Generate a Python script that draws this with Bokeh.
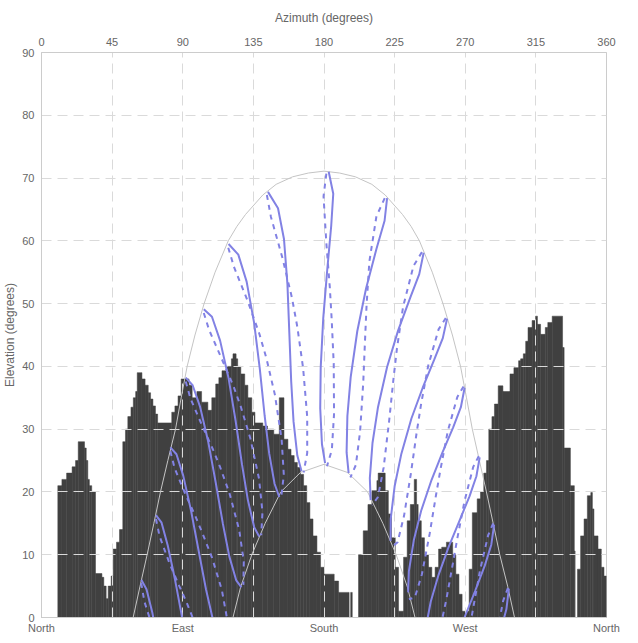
from bokeh.plotting import figure
from bokeh.models import LinearAxis, Range1d, FixedTicker, ColumnDataSource
from bokeh.embed import file_html
from bokeh.resources import INLINE

# ---------------- data ----------------
azimuth_ticks = [0, 45, 90, 135, 180, 225, 270, 315, 360]
elevation_ticks = [0, 10, 20, 30, 40, 50, 60, 70, 80, 90]
compass_ticks = [0, 90, 180, 270, 360]
compass_labels = ["North", "East", "South", "West", "North"]

# horizon profile: start azimuth of each step and its elevation
horizon_az = [0, 10.4, 13, 16, 19.5, 21.7, 23.4, 27.4, 28.5, 29.5, 30.5, 32, 34.4, 38.5, 39.7,
              41.2, 42.5, 44.4, 45.7, 47.8, 49.7, 51.8, 53.5, 55, 57, 58.5, 60, 61, 64, 66,
              68, 69.5, 71, 72.6, 74, 83, 85, 87, 89, 94, 96, 99, 102, 106, 108.5, 111, 113,
              115, 118, 121, 122, 124, 125, 127, 129.5, 131.5, 134, 136, 141, 144, 148, 151.5,
              154.5, 157, 159, 161, 163, 165, 167, 169, 171, 173, 175.5, 177.8, 180, 186.5,
              189.3, 196, 197, 198, 202, 205, 208, 210.5, 213.7, 214.5, 219, 221, 223, 225.4,
              227.5, 230.7, 233, 235, 237.5, 239, 240, 242, 244, 246.6, 248.7, 250.8, 253, 255,
              258, 262, 264, 266, 268, 272.5, 274.5, 277.6, 279.7, 281.8, 283.5, 285, 287,
              288.6, 291, 294, 298.5, 301, 304, 305.3, 307, 308.5, 310, 312.6, 314.8, 316,
              318, 321, 322.6, 325.4, 332, 333, 337, 339.5, 340, 341.5, 343.5, 345.7, 347.8,
              350, 351, 352, 354.6, 356.7, 358.4]
horizon_el = [0, 21, 22, 23, 24, 25, 28, 27, 25, 22, 21, 20, 7, 6.4, 5,
              3, 5, 6.6, 10.9, 12, 14, 28, 30, 32, 33.5, 35, 36, 39, 38, 37,
              35.8, 34.8, 33.7, 32.4, 31, 32.7, 33.7, 35.3, 38, 37, 35, 36, 34.3, 33, 35, 37.2, 38.2,
              39.3, 40, 41.2, 42, 41.2, 40, 38.8, 37, 35, 32.7, 31, 30.5, 30, 29.2, 35,
              28.4, 26.8, 25.8, 24.7, 23.9, 22.8, 21, 18.3, 15.7, 13, 10.4, 8, 6.9, 5.8,
              4, 0, 4, 0, 10, 13.8, 18, 20.2, 21.8, 23, 20.2, 16.5, 12.7, 8,
              1, 9.6, 15.4, 18, 22, 18, 15.4, 12.7, 10, 8, 6.4, 8, 10.9, 11.2,
              12, 10, 6.9, 3.7, 1, 7.7, 16.7, 18.9, 20, 23, 25, 30, 32,
              34, 36.9, 36, 38.8, 39.8, 40.9, 41.2, 42, 44, 46.2, 47.3, 48, 46.7,
              45.1, 46.2, 47, 48, 43, 27, 21, 10.6, 0, 7.7, 13, 15.7, 19.4,
              19.9, 17.3, 13, 10.9, 8, 6.6]

# sun path at the summer and winter solstices
summer_az = [58.4, 62.8, 67.3, 71.6, 75.8, 80.5, 85.4, 89, 92.8, 97.8, 103.6, 110.6, 119, 124.5,
             130, 141, 149.5, 160, 170, 180, 190, 200, 210.5, 219, 230, 235.5, 240.8, 249, 255.8,
             261.8, 267, 270.8, 274.5, 279, 283.5, 287.8, 292, 297, 301.4]
summer_el = [0, 5, 10, 15, 20, 25, 30, 35, 40, 45, 50, 55, 60, 62.3,
             64.2, 67.3, 69.0, 70.2, 70.8, 71.1, 70.8, 70.2, 69.0, 67.3, 64.2, 62.3, 60, 55, 50,
             45, 40, 35, 30, 25, 20, 15, 10, 5, 0]
winter_az = [122, 126.8, 134, 142.5, 152.5, 165, 180, 195, 207.8, 217.5, 226, 233.2, 238]
winter_el = [0, 4.8, 10, 15, 20, 23.1, 24.4, 23.1, 20, 15, 10, 4.8, 0]

# hour lines 5h..19h, first half of the year (solid), from summer towards winter
solid_az = [
    [63.6, 66.9, 70.6, 71.2],
    [72.9, 76.5, 80.4, 85.1, 89.6],
    [82.1, 86.0, 90.3, 95.3, 100.0, 104.8, 108.9],
    [91.9, 96.3, 101.0, 106.3, 111.0, 115.6, 119.7, 124.1, 127.4],
    [103.4, 108.6, 113.8, 119.2, 123.7, 127.8, 131.5, 135.5, 138.7],
    [119.2, 125.4, 130.7, 135.5, 139.1, 142.2, 145.1, 148.5, 151.5],
    [144.3, 150.7, 154.5, 156.7, 157.9, 159.1, 160.6, 163.0, 165.7],
    [183.0, 185.9, 184.6, 182.0, 179.5, 177.9, 177.6, 178.7, 180.7],
    [220.2, 218.6, 213.4, 206.8, 201.2, 197.0, 194.9, 194.4, 195.7],
    [243.5, 240.7, 234.9, 227.2, 220.2, 214.4, 210.9, 209.2, 209.7],
    [258.4, 255.7, 250.3, 242.9, 235.7, 229.3, 225.0, 222.5, 222.4],
    [269.6, 267.2, 262.3, 255.5, 248.5, 241.9, 237.2, 234.1, 233.6],
    [279.2, 277.1, 272.7, 266.3, 259.5, 253.0, 248.0, 246.1],
    [288.4, 286.6, 282.5, 276.4, 269.5],
    [297.8, 296.2, 294.8],
]
solid_el = [
    [6.0, 4.5, 0.8, 0],
    [16.3, 15.1, 11.5, 6.0, 0],
    [27.1, 26.0, 22.6, 17.0, 10.8, 4.5, 0],
    [38.2, 37.0, 33.6, 27.9, 21.5, 14.9, 9.7, 5.9, 4.8],
    [49.1, 47.9, 44.1, 38.1, 31.3, 24.3, 18.7, 14.4, 12.9],
    [59.5, 57.8, 53.5, 46.9, 39.6, 32.1, 26.1, 21.3, 19.2],
    [67.8, 65.2, 60.3, 53.1, 45.4, 37.6, 31.2, 25.8, 23.3],
    [71.0, 67.5, 62.4, 55.2, 47.6, 39.8, 33.3, 27.6, 24.6],
    [66.8, 63.2, 58.7, 52.4, 45.6, 38.3, 32.1, 26.3, 23.0],
    [58.1, 54.7, 50.9, 45.7, 39.9, 33.5, 27.8, 22.2, 18.7],
    [47.6, 44.5, 41.1, 36.6, 31.7, 26.1, 20.9, 15.7, 12.2],
    [36.6, 33.5, 30.3, 26.3, 21.9, 17.0, 12.3, 7.4, 4.0],
    [25.5, 22.5, 19.3, 15.4, 11.3, 6.8, 2.5, 0],
    [14.8, 11.6, 8.3, 4.3, 0],
    [4.6, 1.3, 0],
]
# hour lines 5h..19h, second half of the year (dashed)
dashed_az = [
    [63.5, 65.6, 68.8],
    [72.9, 75.3, 81.6, 87.8, 92.3, 96.3],
    [82.1, 84.8, 91.6, 98.1, 102.6, 108.7, 114.9, 118.1],
    [91.9, 94.9, 102.3, 109.2, 113.9, 120.0, 126.0, 128.9, 128.6],
    [103.4, 106.8, 115.0, 122.4, 127.1, 133.1, 138.6, 140.8, 140.0],
    [119.0, 122.7, 131.4, 138.8, 143.3, 148.7, 153.0, 154.4, 152.8],
    [143.6, 146.2, 153.6, 159.6, 163.0, 166.7, 169.3, 169.3, 167.0],
    [181.5, 179.7, 181.5, 183.7, 184.9, 186.2, 186.4, 185.0, 181.9],
    [218.7, 213.4, 208.9, 207.1, 206.2, 205.0, 203.0, 200.3, 196.8],
    [242.4, 237.0, 230.4, 226.5, 224.3, 221.5, 218.0, 214.4, 210.6],
    [257.6, 253.0, 246.4, 241.8, 239.0, 235.4, 231.0, 226.9, 223.1],
    [268.9, 264.9, 258.8, 254.3, 251.3, 247.3, 242.4, 237.9, 234.1],
    [278.6, 275.1, 269.5, 265.1, 262.1, 257.9, 255.5],
    [287.8, 284.6, 279.4, 275.2, 274.0],
    [297.2, 294.2, 292.1],
]
dashed_el = [
    [5.5, 2.5, 0],
    [15.7, 12.9, 8.6, 5.0, 2.5, 0],
    [26.5, 23.8, 19.7, 16.1, 13.4, 9.5, 4.4, 0],
    [37.6, 34.9, 30.6, 26.8, 23.9, 19.6, 13.9, 8.9, 5.2],
    [48.5, 45.8, 41.1, 36.8, 33.5, 28.5, 22.1, 16.8, 13.1],
    [58.9, 55.8, 50.4, 45.2, 41.3, 35.5, 28.4, 22.7, 19.3],
    [67.3, 63.8, 57.2, 50.9, 46.3, 39.7, 32.0, 26.2, 23.1],
    [70.7, 67.1, 59.6, 52.6, 47.5, 40.4, 32.4, 26.7, 24.1],
    [66.8, 63.9, 56.7, 49.6, 44.5, 37.4, 29.6, 24.3, 22.3],
    [58.2, 56.0, 49.5, 42.9, 38.1, 31.3, 23.9, 19.2, 17.9],
    [47.7, 45.9, 40.1, 33.9, 29.4, 23.0, 16.2, 12.0, 11.2],
    [36.8, 35.1, 29.6, 23.7, 19.4, 13.3, 6.9, 3.2, 2.9],
    [25.7, 24.0, 18.5, 12.8, 8.6, 2.8, 0],
    [15.0, 13.1, 7.5, 1.7, 0],
    [4.7, 2.7, 0],
]

# ---------------- styles ----------------
FONT = "Liberation Sans"
TEXT = "#666666"
BORDER = "#cccccc"
HORIZON = "#404040"
SUN = "#8282e4"
ARC = "#c4c4c4"

p = figure(width=638, height=643, x_range=Range1d(0, 360), y_range=Range1d(0, 90),
           x_axis_location="above", output_backend="svg", toolbar_location=None,
           min_border_left=41, min_border_right=32, min_border_top=52, min_border_bottom=26,
           background_fill_color="white", border_fill_color="white")
p.outline_line_color = BORDER

# top axis (azimuth)
top = p.xaxis[0]
top.ticker = FixedTicker(ticks=azimuth_ticks)
top.axis_label = "Azimuth (degrees)"
top.axis_label_standoff = 10
top.major_label_standoff = 7

# left axis
left = p.yaxis[0]
left.ticker = FixedTicker(ticks=elevation_ticks)
left.axis_label = "Elevation (degrees)"
left.axis_label_standoff = 2
left.major_label_standoff = 7

# bottom axis (compass)
bottom = LinearAxis(ticker=FixedTicker(ticks=compass_ticks),
                    major_label_overrides={t: l for t, l in zip(compass_ticks, compass_labels)})
bottom.major_label_standoff = 4
p.add_layout(bottom, "below")

for ax in [top, left, bottom]:
    ax.axis_line_color = BORDER
    ax.major_tick_line_color = None
    ax.minor_tick_line_color = None
    ax.major_tick_out = 0
    ax.major_tick_in = 0
    ax.minor_tick_out = 0
    ax.major_label_text_font = FONT
    ax.major_label_text_font_size = "11px"
    ax.major_label_text_color = TEXT
    ax.axis_label_text_font = FONT
    ax.axis_label_text_font_size = "12px"
    ax.axis_label_text_color = TEXT
    ax.axis_label_text_font_style = "normal"

p.xgrid.ticker = FixedTicker(ticks=azimuth_ticks)
p.ygrid.ticker = FixedTicker(ticks=elevation_ticks)
p.grid.grid_line_color = "#dadada"
p.grid.grid_line_width = 1
p.grid.grid_line_dash = "10 6"
p.grid.level = "underlay"

# horizon profile
h_right = horizon_az[1:] + [360]
hsrc = ColumnDataSource(dict(left=horizon_az, right=h_right, top=horizon_el,
                             bottom=[0] * len(horizon_el)))
hr = p.quad(left="left", right="right", top="top", bottom="bottom", source=hsrc,
            fill_color=HORIZON, line_color=HORIZON, line_width=0.5)
hr.level = "image"

# solstice arcs
p.line(summer_az, summer_el, line_color=ARC, line_width=1)
p.line(winter_az, winter_el, line_color=ARC, line_width=1)

# hour lines
p.multi_line(xs=solid_az, ys=solid_el, line_color=SUN, line_width=2)
p.multi_line(xs=dashed_az, ys=dashed_el, line_color=SUN, line_width=2, line_dash="5 5")

open("out.html", "w").write(file_html(p, INLINE))
